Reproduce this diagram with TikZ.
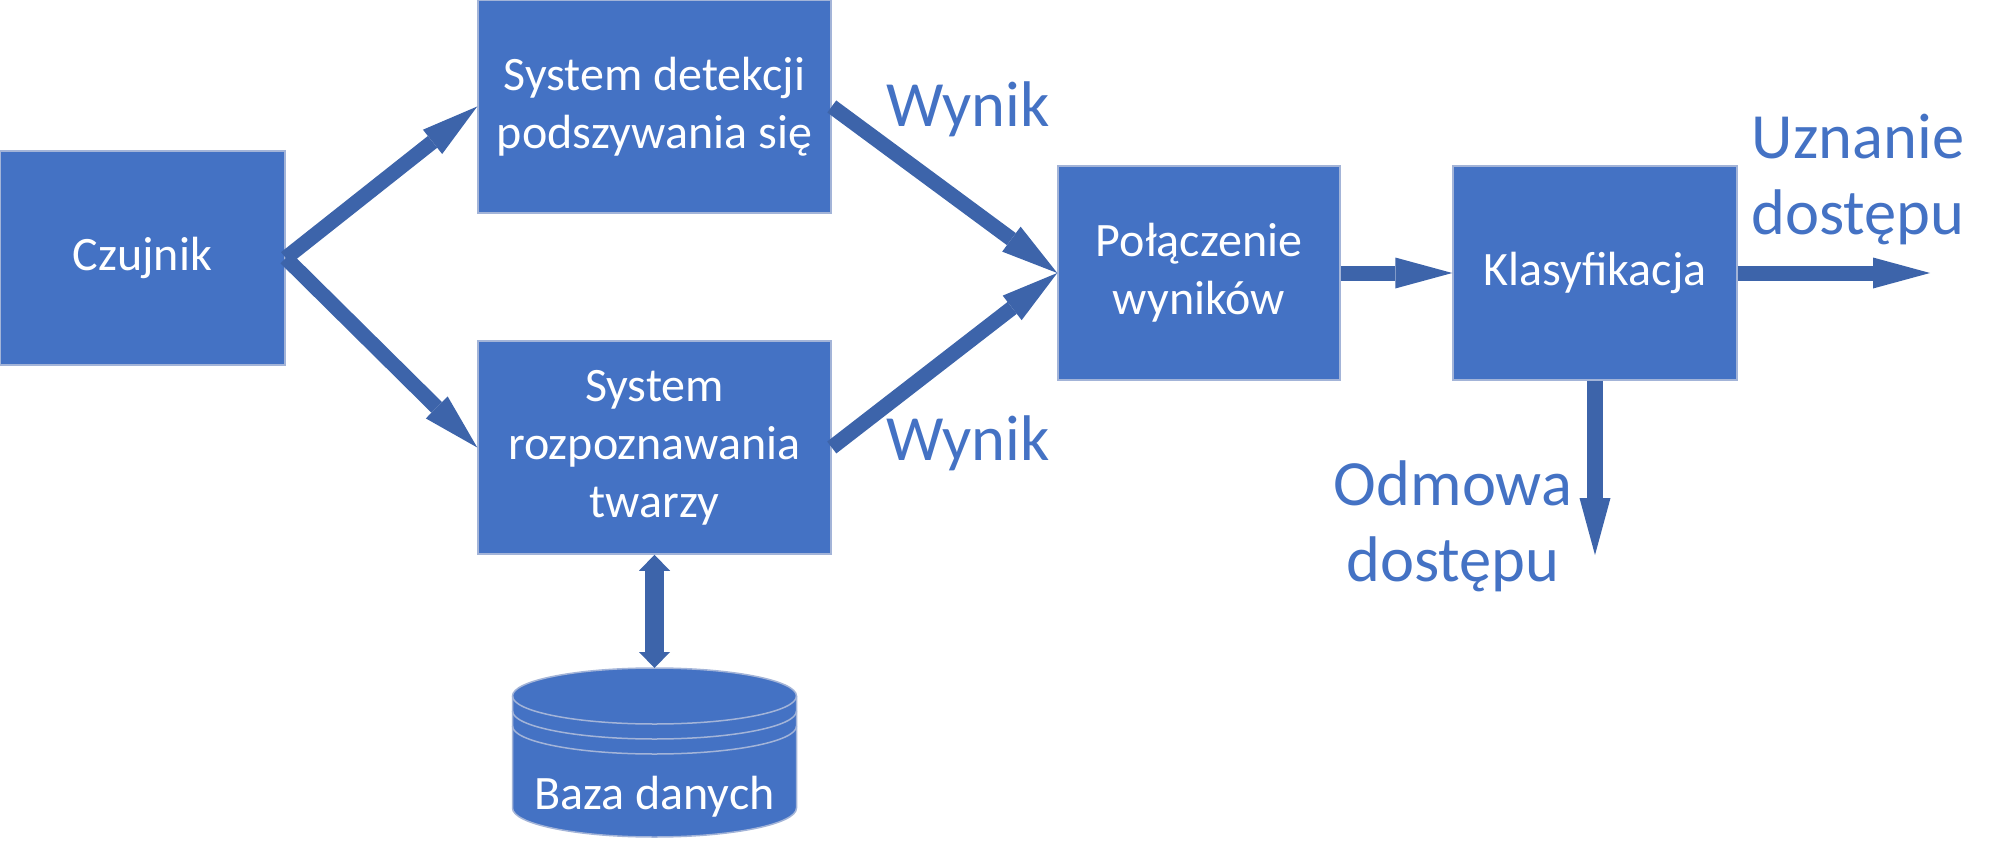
\documentclass[tikz,border=0pt]{standalone}
\usepackage{fontspec}
\setmainfont{Carlito}
\usepackage{tikz}
\usetikzlibrary{arrows.meta,positioning}
\definecolor{boxblue}{HTML}{4472C4}
\definecolor{arrowblue}{HTML}{3D64AA}
\definecolor{edgeblue}{HTML}{A3B4D8}

\begin{document}
\begin{tikzpicture}[x=1pt,y=-1pt,
  block/.style={rectangle,fill=boxblue,draw=edgeblue,line width=1.5pt,text=white,align=center,
    font=\fontsize{48}{58}\selectfont,inner sep=0pt},
  result/.style={text=boxblue,align=center,font=\fontsize{64.5}{76}\selectfont,inner sep=0pt},
  flow/.style={draw=arrowblue,line width=15pt,-{Triangle[length=57pt,width=31pt,line width=0pt]}},
  dbflow/.style={draw=arrowblue,line width=19pt,
    {Triangle[length=16pt,width=31pt,line width=0pt]}-{Triangle[length=16pt,width=31pt,line width=0pt]}}]
\useasboundingbox (0,0) rectangle (2011,848);
\node[block,minimum width=285pt,minimum height=214pt] (C) at (142.5,258) {Czujnik};
\node[block,minimum width=353pt,minimum height=213pt] (D) at (654.5,106.5) {System detekcji\\podszywania się};
\node[block,minimum width=353pt,minimum height=213pt] (R) at (654.5,447.5) {System\\rozpoznawania\\twarzy};
\node[block,minimum width=282pt,minimum height=214pt] (P) at (1199,273) {Połączenie\\wyników};
\node[block,minimum width=284pt,minimum height=214pt] (K) at (1595,273) {Klasyfikacja};
\filldraw[fill=boxblue,draw=edgeblue,line width=1.5pt] (512.5,696) -- (512.5,808)
  arc[start angle=180,end angle=0,x radius=142,y radius=29] -- (796.5,696)
  arc[start angle=0,end angle=-180,x radius=142,y radius=28] -- cycle;
\foreach \y in {696,711,726}
  \draw[edgeblue,line width=1.5pt] (512.5,\y) arc[start angle=180,end angle=0,x radius=142,y radius=28];
\coordinate (B) at (654.5,668);
\node[text=white,font=\fontsize{48}{58}\selectfont,inner sep=0pt,anchor=base] (BT) at (654.5,809) {Baza danych};
\node[result,anchor=base] (W1) at (968,127) {Wynik};
\node[result,anchor=base] (W2) at (968,460) {Wynik};
\node[result] (U) at (1858,180) {Uznanie\\dostępu};
\node[result] (O) at (1453,526) {Odmowa\\dostępu};
\coordinate (KU) at (1930,273);
\coordinate (KO) at (1595,555);
\draw[flow] (C.east) -- (D.west);
\draw[flow] (C.east) -- (R.west);
\draw[flow] (D.east) -- (P.west);
\draw[flow] (R.east) -- (P.west);
\draw[flow] (P.east) -- (K.west);
\draw[flow] (K.east) -- (KU);
\draw[flow,line width=16pt] (K.south) -- (KO);
\draw[dbflow] (R.south) -- (B);
\end{tikzpicture}
\end{document}
